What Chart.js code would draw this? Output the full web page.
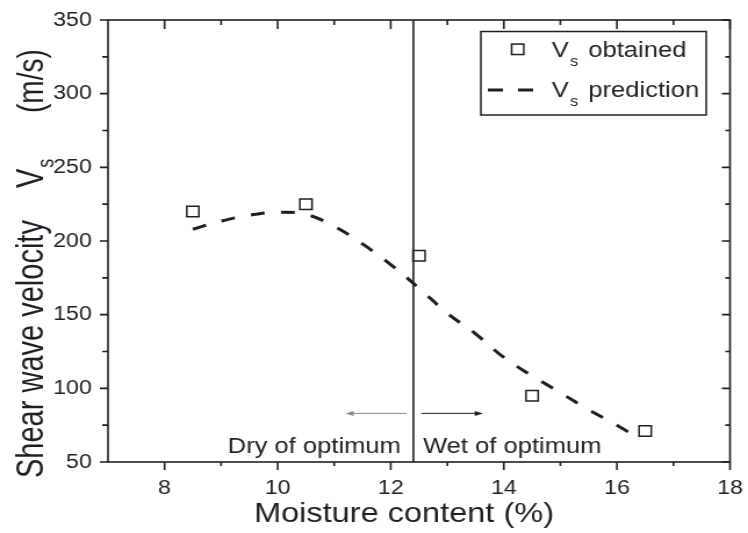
<!DOCTYPE html>
<html>
<head>
<meta charset="utf-8">
<script src="https://cdn.jsdelivr.net/npm/chart.js@4"></script>
<style>
	html, body { margin: 0; padding: 0; background: #fff; overflow: hidden; }
	#wrap { width: 748px; height: 533px; overflow: hidden; }
	/* the figure is drawn narrow and widened, like the original export */
	#chart { display: block; width: 644px; height: 533px; transform: scaleX(1.1615); transform-origin: 0 0; }
</style>
</head>
<body>
<div id="wrap"><canvas id="chart" width="644" height="533"></canvas></div>
<script>
// measured shear wave velocity (m/s) against moisture content (%)
const moisture = [8.5, 10.5, 12.5, 14.5, 16.5];
const vsObtained = [220, 225, 190, 95, 71];

// predicted curve
const predMoisture = [8.5, 9, 9.5, 10, 10.5, 11, 11.5, 12, 12.5, 13, 13.5, 14, 14.5, 15, 15.5, 16, 16.3];
const vsPrediction = [208, 213.5, 217.5, 219.5, 218, 210, 198, 184, 168, 151, 137, 121, 108.5, 97, 85.5, 75, 68];

// optimum moisture content split
const optimumMoisture = 12.4;
const arrowLevel = 83;
const dryArrow = [12.28, 11.2];
const wetArrow = [12.54, 13.63];
const labelLevel = 56;
const dryLabelX = 12.18;
const wetLabelX = 12.57;

const xTicks = [8, 10, 12, 14, 16, 18];
const xMinorTicks = [9, 11, 13, 15, 17];
const yTicks = [50, 100, 150, 200, 250, 300, 350];
const yMinorTicks = [75, 125, 175, 225, 275, 325];

const FONT = `"Liberation Sans", Arial, sans-serif`;
const INK = `#1e1e26`;
const SQUARE_RADIUS = 7.4;

function arrow(ctx, x1, x2, yy, color) {
	const dir = Math.sign(x2 - x1);
	ctx.strokeStyle = color;
	ctx.fillStyle = color;
	ctx.lineWidth = 1;
	ctx.beginPath();
	ctx.moveTo(x1, yy);
	ctx.lineTo(x2 - dir * 4, yy);
	ctx.stroke();
	ctx.beginPath();
	ctx.moveTo(x2, yy);
	ctx.lineTo(x2 - dir * 7, yy - 2.5);
	ctx.lineTo(x2 - dir * 7, yy + 2.5);
	ctx.closePath();
	ctx.fill();
}

// "V" with subscript "s", returns the x where the next word can go
function drawVs(ctx, x0, base, size, subSize, subDrop) {
	ctx.font = `${size}px ${FONT}`;
	ctx.fillText(`V`, x0, base);
	const w = ctx.measureText(`V`).width;
	ctx.font = `${subSize}px ${FONT}`;
	ctx.fillText(`s`, x0 + w + 1, base + subDrop);
	return x0 + w + 1 + ctx.measureText(`s`).width;
}

const decorations = {
	id: `decorations`,
	afterDatasetsDraw(chart) {
		const {ctx, chartArea: a, scales: {x, y}} = chart;
		ctx.save();

		// frame with ticks: outward on left/bottom, inward on top/right
		ctx.strokeStyle = INK;
		ctx.lineWidth = 1.6;
		ctx.strokeRect(a.left, a.top, a.right - a.left, a.bottom - a.top);
		ctx.beginPath();
		xTicks.forEach(v => {
			const px = x.getPixelForValue(v);
			ctx.moveTo(px, a.bottom); ctx.lineTo(px, a.bottom + 8);
			ctx.moveTo(px, a.top); ctx.lineTo(px, a.top + 9);
		});
		xMinorTicks.forEach(v => {
			const px = x.getPixelForValue(v);
			ctx.moveTo(px, a.bottom); ctx.lineTo(px, a.bottom + 4);
			ctx.moveTo(px, a.top); ctx.lineTo(px, a.top + 5);
		});
		yTicks.forEach(v => {
			const py = y.getPixelForValue(v);
			ctx.moveTo(a.left, py); ctx.lineTo(a.left - 7, py);
			ctx.moveTo(a.right, py); ctx.lineTo(a.right - 7, py);
		});
		yMinorTicks.forEach(v => {
			const py = y.getPixelForValue(v);
			ctx.moveTo(a.left, py); ctx.lineTo(a.left - 5, py);
			ctx.moveTo(a.right, py); ctx.lineTo(a.right - 4, py);
		});
		ctx.stroke();

		// dry / wet arrows and labels
		const ay = y.getPixelForValue(arrowLevel);
		arrow(ctx, x.getPixelForValue(dryArrow[0]), x.getPixelForValue(dryArrow[1]), ay, `#8a8a8a`);
		arrow(ctx, x.getPixelForValue(wetArrow[0]), x.getPixelForValue(wetArrow[1]), ay, INK);

		ctx.fillStyle = INK;
		ctx.font = `22px ${FONT}`;
		ctx.textBaseline = `alphabetic`;
		ctx.textAlign = `right`;
		ctx.fillText(`Dry of optimum`, x.getPixelForValue(dryLabelX), y.getPixelForValue(labelLevel));
		ctx.textAlign = `left`;
		ctx.fillText(`Wet of optimum`, x.getPixelForValue(wetLabelX), y.getPixelForValue(labelLevel));

		// legend
		ctx.lineWidth = 1.5;
		ctx.strokeStyle = INK;
		ctx.strokeRect(414, 31.5, 194, 83.5);
		const side = SQUARE_RADIUS * Math.SQRT2;
		ctx.strokeRect(445.7 - side / 2, 49.3 - side / 2, side, side);
		ctx.lineWidth = 3;
		ctx.setLineDash([13, 13]);
		ctx.beginPath();
		ctx.moveTo(420, 90);
		ctx.lineTo(459, 90);
		ctx.stroke();
		ctx.setLineDash([]);
		drawVs(ctx, 475, 57, 22, 14, 9);
		ctx.font = `22px ${FONT}`;
		ctx.fillText(`obtained`, 506.5, 57);
		drawVs(ctx, 475, 97, 22, 14, 9);
		ctx.font = `22px ${FONT}`;
		ctx.fillText(`prediction`, 506.5, 97);

		// axis titles
		ctx.textAlign = `center`;
		ctx.font = `28px ${FONT}`;
		ctx.fillText(`Moisture content (%)`, 347.8, 521.7);

		// y title runs bottom to top, glyphs a little taller than wide
		ctx.translate(37, 478);
		ctx.rotate(-Math.PI / 2);
		ctx.scale(1, 1.15);
		ctx.textAlign = `left`;
		ctx.font = `29px ${FONT}`;
		ctx.fillText(`Shear wave velocity`, 0, 0);
		drawVs(ctx, 290, 0, 29, 18, 8);
		ctx.font = `28px ${FONT}`;
		ctx.fillText(`(m/s)`, 365, 0);

		ctx.restore();
	}
};

const tickFont = {family: FONT, size: 20};

new Chart(document.getElementById(`chart`), {
	type: `line`,
	data: {
		datasets: [
			{
				label: `Vs obtained`,
				data: moisture.map((m, i) => ({x: m, y: vsObtained[i]})),
				showLine: false,
				pointStyle: `rect`,
				pointRadius: SQUARE_RADIUS,
				pointBorderWidth: 1.5,
				borderColor: INK,
				backgroundColor: `rgba(0,0,0,0)`
			},
			{
				label: `Vs prediction`,
				data: predMoisture.map((m, i) => ({x: m, y: vsPrediction[i]})),
				borderColor: INK,
				borderWidth: 3,
				borderDash: [12, 14],
				pointRadius: 0,
				tension: 0.4
			},
			{
				label: `optimum`,
				data: [{x: optimumMoisture, y: 50}, {x: optimumMoisture, y: 350}],
				borderColor: INK,
				borderWidth: 1.6,
				pointRadius: 0
			}
		]
	},
	options: {
		responsive: false,
		animation: false,
		events: [],
		layout: {autoPadding: false, padding: {top: 20, right: 15.5, left: 0, bottom: 0}},
		plugins: {
			legend: {display: false},
			tooltip: {enabled: false}
		},
		scales: {
			x: {
				type: `linear`,
				min: 7,
				max: 18,
				afterBuildTicks: s => { s.ticks = xTicks.map(v => ({value: v})); },
				afterFit: s => { s.height = 71; s.paddingLeft = 0; s.paddingRight = 0; },
				grid: {display: false, drawTicks: false},
				border: {display: false},
				ticks: {font: tickFont, color: INK, padding: 14, maxRotation: 0}
			},
			y: {
				type: `linear`,
				min: 50,
				max: 350,
				afterBuildTicks: s => { s.ticks = yTicks.map(v => ({value: v})); },
				afterFit: s => { s.width = 93; s.paddingTop = 0; s.paddingBottom = 0; },
				grid: {display: false, drawTicks: false},
				border: {display: false},
				ticks: {font: tickFont, color: INK, padding: 14}
			}
		}
	},
	plugins: [decorations]
});
</script>
</body>
</html>
